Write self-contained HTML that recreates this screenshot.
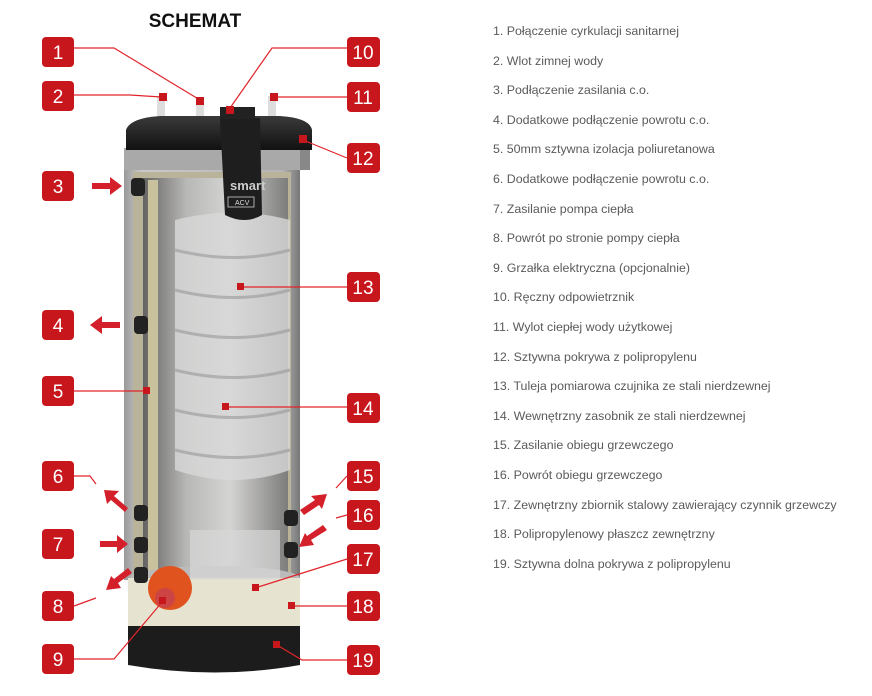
<!DOCTYPE html>
<html><head><meta charset="utf-8"><style>
body{margin:0;background:#fff;width:872px;height:696px;overflow:hidden;font-family:"Liberation Sans",sans-serif}
.leg{position:absolute;left:493px;top:17px;font-size:12.4px;color:#5a5a5a;line-height:29.6px}
</style></head><body>
<svg width="872" height="696" style="position:absolute;left:0;top:0">
<defs>
<linearGradient id="body" x1="0" x2="1"><stop offset="0" stop-color="#9a9a9a"/><stop offset=".1" stop-color="#c9c9c9"/><stop offset=".9" stop-color="#b5b5b5"/><stop offset="1" stop-color="#777"/></linearGradient>
<linearGradient id="inner" x1="0" x2="1"><stop offset="0" stop-color="#5f5f5f"/><stop offset=".3" stop-color="#b8b8b8"/><stop offset=".6" stop-color="#d6d6d6"/><stop offset="1" stop-color="#7a7a7a"/></linearGradient>
<linearGradient id="lid" x1="0" y1="0" x2="0" y2="1"><stop offset="0" stop-color="#3a3a3a"/><stop offset="1" stop-color="#111"/></linearGradient>
</defs>
<text x="195" y="27" text-anchor="middle" font-weight="bold" font-size="19" fill="#111">SCHEMAT</text>
<rect x="124" y="150" width="176" height="430" fill="url(#body)"/>
<rect x="133" y="172" width="158" height="405" fill="#b9b39a"/>
<rect x="143" y="178" width="145" height="395" fill="url(#inner)" opacity=".95"/>
<path d="M175 220 Q235 205 290 220 L290 470 Q235 490 175 470 Z" fill="#d8d8d8" opacity=".8"/>
<g stroke="#999" stroke-width="3" fill="none" opacity=".6">
<path d="M175 250 Q235 265 290 250"/><path d="M175 290 Q235 305 290 290"/><path d="M175 330 Q235 345 290 330"/><path d="M175 370 Q235 385 290 370"/><path d="M175 410 Q235 425 290 410"/><path d="M175 450 Q235 465 290 450"/></g>
<rect x="148" y="180" width="10" height="395" fill="#c9c19b"/>
<rect x="124" y="148" width="186" height="22" fill="#a9a9a9"/>
<rect x="300" y="148" width="10" height="22" fill="#888"/>
<path d="M126 130 Q130 118 160 116 L280 116 Q310 118 312 130 L312 150 L126 150 Z" fill="url(#lid)"/>
<path d="M220 118 L260 118 L262 215 Q245 225 225 215 Z" fill="#1e1e1e"/>
<text x="230" y="190" font-size="13" font-weight="bold" fill="#ccc">smart</text>
<rect x="228" y="197" width="26" height="10" fill="none" stroke="#aaa"/>
<text x="235" y="205" font-size="7" fill="#ddd">ACV</text>
<rect x="220" y="107" width="35" height="12" fill="#222"/>
<rect x="157" y="96" width="8" height="20" fill="#ddd"/><rect x="196" y="100" width="8" height="16" fill="#ddd"/><rect x="268" y="96" width="8" height="20" fill="#ddd"/>
<ellipse cx="215" cy="578" rx="85" ry="12" fill="#bbb"/>
<rect x="128" y="578" width="172" height="48" fill="#e6e3d0"/>
<path d="M128 626 L300 626 L300 665 Q215 680 128 665 Z" fill="#1c1c1c"/>
<rect x="190" y="530" width="90" height="50" fill="#d7d7d7" opacity=".7"/>
<circle cx="170" cy="588" r="22" fill="#e0531f"/><circle cx="165" cy="598" r="10" fill="#c44"/>
<g fill="#222"><rect x="131" y="178" width="14" height="18" rx="4"/><rect x="134" y="316" width="14" height="18" rx="4"/><rect x="134" y="505" width="14" height="16" rx="4"/><rect x="134" y="537" width="14" height="16" rx="4"/><rect x="134" y="567" width="14" height="16" rx="4"/><rect x="284" y="510" width="14" height="16" rx="4"/><rect x="284" y="542" width="14" height="16" rx="4"/></g>
<g stroke="#e0242b" stroke-width="1.2" fill="none">
<polyline points="74,48 114,48 200,100"/><polyline points="347,48 272,48 230,108"/>
<polyline points="74,95 130,95 161,97"/><polyline points="347,97 273,97"/>
<polyline points="347,158 303,140"/><polyline points="347,287 240,287"/>
<polyline points="74,391 146,391"/><polyline points="347,407 225,407"/>
<polyline points="74,476 90,476 96,484"/><polyline points="347,476 336,488"/>
<polyline points="347,515 336,518"/><polyline points="74,606 96,598"/>
<polyline points="347,559 255,588"/><polyline points="347,606 292,606"/>
<polyline points="74,659 114,659 163,601"/><polyline points="347,660 302,660 277,645"/>
</g>
<g fill="#c8161d">
<rect x="159" y="93" width="8" height="8"/><rect x="196" y="97" width="8" height="8"/><rect x="226" y="106" width="8" height="8"/><rect x="270" y="93" width="8" height="8"/><rect x="299" y="135" width="8" height="8"/>
<rect x="237" y="283" width="7" height="7"/><rect x="143" y="387" width="7" height="7"/><rect x="222" y="403" width="7" height="7"/><rect x="252" y="584" width="7" height="7"/><rect x="288" y="602" width="7" height="7"/><rect x="273" y="641" width="7" height="7"/><rect x="159" y="597" width="7" height="7"/>
</g>
<g fill="#d4202a">
<polygon points="92,183 110,183 110,177 122,186 110,195 110,189 92,189"/>
<polygon points="120,322 102,322 102,316 90,325 102,334 102,328 120,328"/>
<polygon points="128,508 114,496 119,491 104,490 107,504 111,500 125,512"/>
<polygon points="100,541 117,541 117,535 128,544 117,553 117,547 100,547"/>
<polygon points="132,573 118,583 121,588 106,590 111,576 114,579 128,568"/>
<polygon points="300,510 315,500 311,496 327,494 322,509 319,505 304,515"/>
<polygon points="327,530 311,540 314,545 299,547 305,533 307,536 323,525"/>
</g>
<g font-size="19" fill="#fff" text-anchor="middle">
<g fill="#c8161d">
<rect x="42" y="37" width="32" height="30" rx="4"/><rect x="42" y="81" width="32" height="30" rx="4"/><rect x="42" y="171" width="32" height="30" rx="4"/><rect x="42" y="310" width="32" height="30" rx="4"/><rect x="42" y="376" width="32" height="30" rx="4"/><rect x="42" y="461" width="32" height="30" rx="4"/><rect x="42" y="529" width="32" height="30" rx="4"/><rect x="42" y="591" width="32" height="30" rx="4"/><rect x="42" y="644" width="32" height="30" rx="4"/>
<rect x="347" y="37" width="33" height="30" rx="4"/><rect x="347" y="82" width="33" height="30" rx="4"/><rect x="347" y="143" width="33" height="30" rx="4"/><rect x="347" y="272" width="33" height="30" rx="4"/><rect x="347" y="393" width="33" height="30" rx="4"/><rect x="347" y="461" width="33" height="30" rx="4"/><rect x="347" y="500" width="33" height="30" rx="4"/><rect x="347" y="544" width="33" height="30" rx="4"/><rect x="347" y="591" width="33" height="30" rx="4"/><rect x="347" y="645" width="33" height="30" rx="4"/>
</g>
<text x="58" y="59">1</text><text x="58" y="103">2</text><text x="58" y="193">3</text><text x="58" y="332">4</text><text x="58" y="398">5</text><text x="58" y="483">6</text><text x="58" y="551">7</text><text x="58" y="613">8</text><text x="58" y="666">9</text>
<text x="363" y="59">10</text><text x="363" y="104">11</text><text x="363" y="165">12</text><text x="363" y="294">13</text><text x="363" y="415">14</text><text x="363" y="483">15</text><text x="363" y="522">16</text><text x="363" y="566">17</text><text x="363" y="613">18</text><text x="363" y="667">19</text>
</g>
</svg>
<div class="leg">
1. Połączenie cyrkulacji sanitarnej<br>2. Wlot zimnej wody<br>3. Podłączenie zasilania c.o.<br>4. Dodatkowe podłączenie powrotu c.o.<br>5. 50mm sztywna izolacja poliuretanowa<br>6. Dodatkowe podłączenie powrotu c.o.<br>7. Zasilanie pompa ciepła<br>8. Powrót po stronie pompy ciepła<br>9. Grzałka elektryczna (opcjonalnie)<br>10. Ręczny odpowietrznik<br>11. Wylot ciepłej wody użytkowej<br>12. Sztywna pokrywa z polipropylenu<br>13. Tuleja pomiarowa czujnika ze stali nierdzewnej<br>14. Wewnętrzny zasobnik ze stali nierdzewnej<br>15. Zasilanie obiegu grzewczego<br>16. Powrót obiegu grzewczego<br>17. Zewnętrzny zbiornik stalowy zawierający czynnik grzewczy<br>18. Polipropylenowy płaszcz zewnętrzny<br>19. Sztywna dolna pokrywa z polipropylenu
</div>
</body></html>
